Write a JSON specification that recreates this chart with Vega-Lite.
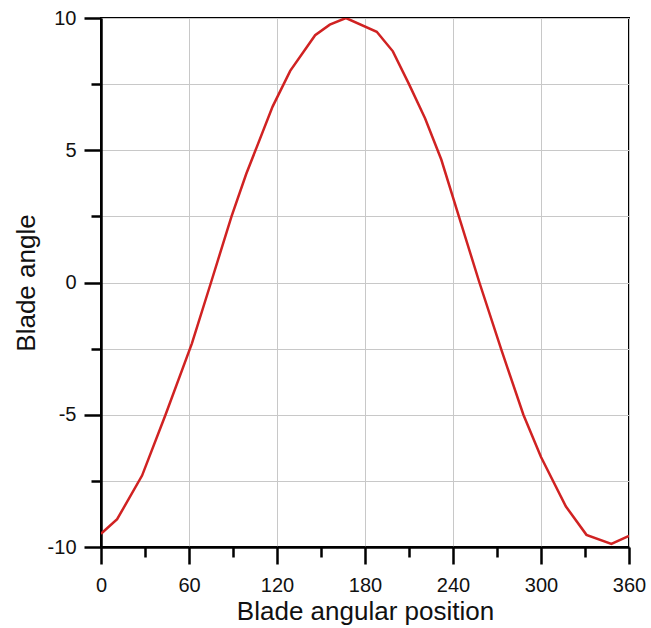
{
  "$schema": "https://vega.github.io/schema/vega-lite/v6.json",
  "width": 528,
  "height": 529,
  "autosize": {"type": "none"},
  "padding": {"left": 101, "top": 18, "right": 22, "bottom": 81},
  "background": "white",
  "config": {
    "view": {"stroke": "black", "strokeWidth": 2},
    "axis": {
      "labelFont": "Liberation Sans",
      "titleFont": "Liberation Sans",
      "labelFontSize": 20,
      "titleFontSize": 26,
      "titleFontWeight": "normal",
      "labelColor": "#111",
      "titleColor": "#111",
      "domainColor": "black",
      "domainWidth": 2.5,
      "tickColor": "black",
      "tickWidth": 2.5,
      "gridColor": "#c8c8c8",
      "gridWidth": 1
    }
  },
  "data": {
    "values": [
      {"pos": 0, "angle": -9.5},
      {"pos": 11, "angle": -8.95},
      {"pos": 28, "angle": -7.3},
      {"pos": 44, "angle": -5.0},
      {"pos": 62, "angle": -2.3},
      {"pos": 75, "angle": 0.0},
      {"pos": 89, "angle": 2.5},
      {"pos": 99, "angle": 4.1},
      {"pos": 117, "angle": 6.65},
      {"pos": 129, "angle": 8.0},
      {"pos": 146, "angle": 9.35},
      {"pos": 156, "angle": 9.75},
      {"pos": 167, "angle": 10.0},
      {"pos": 188, "angle": 9.48},
      {"pos": 199, "angle": 8.74},
      {"pos": 210, "angle": 7.5},
      {"pos": 221, "angle": 6.2},
      {"pos": 232, "angle": 4.65},
      {"pos": 244, "angle": 2.5},
      {"pos": 258, "angle": 0.0},
      {"pos": 273, "angle": -2.55},
      {"pos": 288, "angle": -5.0},
      {"pos": 300, "angle": -6.6},
      {"pos": 317, "angle": -8.47},
      {"pos": 331, "angle": -9.54},
      {"pos": 348, "angle": -9.88},
      {"pos": 360, "angle": -9.58}
    ]
  },
  "mark": {"type": "line", "color": "#d02222", "strokeWidth": 2.5, "clip": true},
  "encoding": {
    "x": {
      "field": "pos",
      "type": "quantitative",
      "scale": {"domain": [0, 360], "nice": false, "zero": false},
      "axis": {
        "title": "Blade angular position",
        "values": [0, 30, 60, 90, 120, 150, 180, 210, 240, 270, 300, 330, 360],
        "labelExpr": "datum.value % 60 === 0 ? datum.label : ''",
        "tickSize": {"condition": {"test": "datum.value % 60 === 0", "value": 17}, "value": 10},
        "gridOpacity": {"condition": {"test": "datum.value % 60 === 0", "value": 1}, "value": 0},
        "labelPadding": 11,
        "titlePadding": 3,
        "labelFlush": false
      }
    },
    "y": {
      "field": "angle",
      "type": "quantitative",
      "scale": {"domain": [-10, 10], "nice": false, "zero": false},
      "axis": {
        "title": "Blade angle",
        "values": [-10, -7.5, -5, -2.5, 0, 2.5, 5, 7.5, 10],
        "labelExpr": "datum.value % 5 === 0 ? toString(datum.value) : ''",
        "tickSize": {"condition": {"test": "datum.value % 5 === 0", "value": 17}, "value": 10},
        "labelPadding": 8,
        "titlePadding": 8,
        "labelFlush": false
      }
    }
  }
}
